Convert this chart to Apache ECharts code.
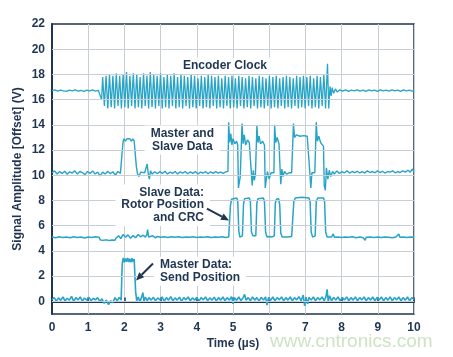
<!DOCTYPE html>
<html>
<head>
<meta charset="utf-8">
<script src="https://cdn.jsdelivr.net/npm/echarts@6/dist/echarts.min.js"></script>
<style>
html,body{margin:0;padding:0;background:#fff;}
#chart{width:453px;height:357px;}
</style>
</head>
<body>
<div id="chart"></div>
<script>
// ---- Data ----
const xMin = 0, xMax = 10;
const yMin = -1, yMax = 22;
const yGridValues = [0, 2, 4, 6, 8, 10, 12, 14, 16, 18, 20];

// Encoder clock: baseline before, clock samples (alternating peak / trough), tail after
const clockBefore = [[0,16.72],[0.08,16.78],[0.16,16.68],[0.24,16.76],[0.32,16.7],[0.4,16.66],[0.48,16.76],[0.56,16.7],[0.64,16.78],[0.72,16.68],[0.8,16.74],[0.88,16.66],[0.96,16.76],[1.04,16.7],[1.12,16.78],[1.2,16.68],[1.28,16.74],[1.33,16.7],[1.37,16.0]];
const clockStart = 1.40;
const clockHalfPeriod = 0.047;
const clockValues = [
17.8,15.5, 17.9,15.3, 18.0,15.4, 17.9,15.3, 18.1,15.5, 17.9,15.3, 18.0,15.4, 18.2,15.3, 17.9,15.5, 18.1,15.3,
18.0,15.4, 17.8,15.3, 18.1,15.5, 17.9,15.3, 18.2,15.4, 18.0,15.3, 17.9,15.5, 18.1,15.3, 17.8,15.4, 18.0,15.3,
17.9,15.5, 18.1,15.3, 17.8,15.4, 18.0,15.3, 17.9,15.5, 17.8,15.3, 18.0,15.4, 17.9,15.3, 17.7,15.5, 17.9,15.3,
17.8,15.4, 18.0,15.3, 17.9,15.5, 17.8,15.3, 17.9,15.4, 17.7,15.3, 17.9,15.5, 17.8,15.3, 17.9,15.4, 17.7,15.3,
17.9,15.5, 17.8,15.3, 17.7,15.4, 17.9,15.3, 17.8,15.5, 17.7,15.3, 17.9,15.4, 17.8,15.3, 17.7,15.5, 17.9,15.3,
17.8,15.4, 17.9,15.3, 17.7,15.5, 17.8,15.3, 17.9,15.4, 17.8,15.3, 17.7,15.5, 17.9,15.3, 17.8,15.4, 17.9,15.3,
17.8,15.5, 17.9,15.3, 17.7,15.4, 17.9,15.3, 17.8,15.5, 18.0,15.3
];
const clockAfter = [[7.61,18.85],[7.645,15.3],[7.68,17.05],[7.71,16.3],[7.74,16.95],[7.78,16.5],[7.83,16.85],[7.88,16.6],[7.95,16.78],[8.03,16.68],[8.11,16.78],[8.19,16.66],[8.27,16.76],[8.35,16.7],[8.43,16.78],[8.51,16.68],[8.59,16.76],[8.67,16.66],[8.75,16.78],[8.83,16.7],[8.91,16.76],[8.99,16.66],[9.07,16.78],[9.15,16.7],[9.23,16.76],[9.31,16.68],[9.39,16.78],[9.47,16.7],[9.55,16.76],[9.63,16.66],[9.71,16.78],[9.79,16.7],[9.87,16.76],[9.95,16.68],[10,16.74]];

const masterSlaveData = [
[0,10.2],[0.07,10.35],[0.14,10.1],[0.21,10.3],[0.28,10.15],[0.35,10.32],[0.42,10.08],[0.49,10.28],[0.56,10.18],[0.63,10.35],[0.7,10.1],[0.77,10.3],[0.84,10.22],[0.91,10.05],[0.98,10.3],[1.05,10.15],[1.12,10.35],[1.19,10.1],[1.26,10.25],[1.33,9.95],[1.4,10.25],[1.47,10.1],[1.54,10.32],[1.61,10.12],[1.68,10.28],[1.75,10.02],[1.82,10.3],[1.89,10.15],
[1.94,10.25],[1.96,12.6],[1.99,12.9],[2.03,12.7],[2.07,12.9],[2.11,12.75],[2.15,12.9],[2.19,12.7],[2.23,12.88],[2.27,12.72],[2.31,12.8],[2.33,10.7],[2.36,10.15],[2.4,9.9],[2.45,10.25],[2.5,10.1],[2.56,10.2],[2.6,10.05],[2.63,10.9],[2.66,10.1],[2.69,9.7],[2.72,10.35],[2.77,10.1],[2.84,10.28],[2.91,10.12],[2.98,10.3],[3.05,10.15],[3.12,10.32],[3.19,10.1],[3.26,10.25],[3.33,10.15],[3.4,10.3],[3.47,10.1],[3.54,10.28],[3.61,10.18],[3.68,10.3],[3.75,10.12],[3.82,10.27],[3.89,10.15],[3.96,10.3],[4.03,10.1],[4.1,10.25],[4.17,10.18],[4.24,10.3],[4.31,10.12],[4.38,10.28],[4.45,10.15],[4.52,10.3],[4.59,10.18],[4.66,10.25],[4.73,10.15],[4.8,10.28],[4.85,10.2],
[4.86,10.3],[4.88,14.2],[4.91,12.6],[4.94,13.3],[4.97,12.4],[5.0,12.9],[5.05,12.5],[5.1,12.7],[5.13,12.4],[5.15,9.0],[5.18,8.9],[5.2,9.9],
[5.23,10.0],[5.25,14.1],[5.28,12.5],[5.31,13.2],[5.35,12.4],[5.4,12.8],[5.45,12.6],[5.5,12.5],[5.53,9.2],[5.56,10.4],[5.59,9.6],[5.62,10.1],
[5.64,10.2],[5.66,13.9],[5.69,12.6],[5.72,13.1],[5.76,12.5],[5.82,12.7],[5.87,12.4],[5.89,9.0],[5.92,8.9],[5.95,10.3],[6.0,9.7],[6.05,10.2],[6.1,10.1],
[6.13,10.2],[6.15,14.0],[6.18,12.6],[6.22,13.0],[6.27,12.5],[6.3,12.4],[6.32,9.3],[6.35,10.5],[6.38,9.9],[6.42,10.3],[6.48,10.1],[6.55,10.2],[6.62,10.2],
[6.65,10.2],[6.67,14.1],[6.7,13.0],[6.75,13.2],[6.85,13.1],[6.95,13.15],[7.05,13.1],[7.1,13.0],[7.12,10.3],[7.15,9.0],[7.18,10.2],[7.22,10.1],[7.26,10.2],
[7.28,10.3],[7.3,14.2],[7.33,12.7],[7.37,13.1],[7.42,12.6],[7.47,12.5],[7.5,12.3],[7.52,9.2],[7.55,8.8],[7.58,10.6],[7.62,9.7],[7.66,10.4],[7.7,9.9],[7.75,10.3],
[7.8,10.1],[7.87,10.35],[7.94,10.15],[8.01,10.3],[8.08,10.2],[8.15,10.35],[8.22,10.18],[8.29,10.3],[8.36,10.22],[8.43,10.32],[8.5,10.2],[8.57,10.3],[8.64,10.18],[8.71,10.35],[8.78,10.22],[8.85,10.3],[8.92,10.2],[8.99,10.35],[9.06,10.22],[9.13,10.32],[9.2,10.18],[9.27,10.3],[9.34,10.25],[9.41,10.35],[9.48,10.2],[9.55,10.3],[9.62,10.22],[9.69,10.35],[9.76,10.25],[9.83,10.4],[9.9,10.25],[9.95,10.5],[10,10.3]
];

const slaveData = [
[0,5.1],[0.1,5.05],[0.2,5.12],[0.3,5.06],[0.4,5.1],[0.5,5.04],[0.6,5.12],[0.7,5.07],[0.8,5.1],[0.9,5.03],[1.0,5.1],[1.1,5.06],[1.2,5.12],[1.3,5.08],[1.34,4.86],[1.42,4.84],[1.5,4.88],[1.58,4.83],[1.66,4.87],[1.74,4.85],[1.78,5.05],[1.84,5.2],[1.9,4.98],[1.96,5.3],[2.03,5.1],[2.1,5.28],[2.17,5.0],[2.24,5.22],[2.31,5.05],[2.38,5.3],[2.45,5.12],[2.52,5.25],[2.58,5.1],[2.62,5.3],[2.64,5.7],[2.67,5.1],[2.72,4.95],[2.78,5.2],[2.85,5.05],[2.92,5.15],[3.0,5.08],[3.1,5.12],[3.2,5.06],[3.3,5.12],[3.4,5.08],[3.5,5.13],[3.6,5.06],[3.7,5.1],[3.8,5.08],[3.9,5.12],[4.0,5.06],[4.1,5.1],[4.2,5.08],[4.3,5.12],[4.4,5.06],[4.5,5.1],[4.6,5.08],[4.7,5.12],[4.8,5.07],[4.88,5.1],
[4.9,5.1],[4.93,7.6],[4.96,8.1],[5.0,8.2],[5.1,8.2],[5.13,8.0],[5.16,5.6],[5.19,5.1],[5.23,5.15],
[5.26,5.2],[5.29,7.7],[5.32,8.15],[5.45,8.2],[5.48,7.9],[5.51,5.5],[5.55,5.2],[5.6,5.2],
[5.63,5.2],[5.66,7.8],[5.69,8.15],[5.84,8.2],[5.87,7.9],[5.9,5.5],[5.94,5.1],[6.0,5.15],[6.07,5.1],[6.12,5.15],
[6.14,5.2],[6.17,7.8],[6.2,8.1],[6.26,8.15],[6.29,7.7],[6.32,5.4],[6.36,5.1],[6.5,5.1],[6.62,5.15],
[6.65,5.2],[6.68,7.9],[6.72,8.2],[6.9,8.25],[7.1,8.2],[7.13,7.9],[7.16,5.5],[7.2,5.1],[7.24,5.15],
[7.27,5.2],[7.3,7.9],[7.34,8.2],[7.5,8.2],[7.53,7.9],[7.56,5.5],[7.6,5.1],
[7.65,5.05],[7.72,5.1],[7.77,5.35],[7.8,5.08],[7.9,5.1],[8.0,5.06],[8.1,5.1],[8.2,5.08],[8.3,5.12],[8.4,5.05],[8.5,5.1],[8.6,5.04],[8.65,4.85],[8.68,5.08],[8.8,5.1],[8.9,5.06],[9.0,5.1],[9.1,5.06],[9.2,5.1],[9.3,5.08],[9.4,5.04],[9.5,5.1],[9.58,5.35],[9.61,5.08],[9.7,5.1],[9.8,5.06],[9.9,5.1],[10,5.08]
];

const masterData = [
[0,0.15],[0.06,0.3],[0.12,0.02],[0.18,0.28],[0.24,0.08],[0.3,0.35],[0.36,0.05],[0.42,0.25],[0.48,0.1],[0.54,0.4],[0.6,0.0],[0.66,0.3],[0.72,0.12],[0.78,0.35],[0.84,0.02],[0.9,0.27],[0.96,0.1],[1.02,0.32],[1.08,0.05],[1.14,0.25],[1.2,0.12],[1.26,0.3],[1.32,0.0],[1.38,0.2],[1.44,-0.15],[1.5,0.1],[1.56,-0.25],[1.62,0.05],[1.68,-0.1],[1.74,0.3],[1.8,0.05],[1.86,0.32],[1.91,0.1],
[1.94,3.0],[1.97,3.45],[2.0,3.1],[2.03,3.4],[2.06,3.15],[2.09,3.45],[2.12,3.12],[2.15,3.38],[2.18,3.1],[2.21,3.42],[2.24,3.15],[2.27,3.35],[2.29,3.2],
[2.31,0.8],[2.34,0.05],[2.38,0.35],[2.43,-0.05],[2.47,0.3],[2.51,0.7],[2.54,0.0],[2.58,0.35],[2.63,0.05],[2.68,0.3],[2.74,0.1],[2.8,0.32],[2.86,0.05],[2.92,0.28],[2.98,0.12],[3.04,0.35],[3.1,0.02],[3.16,0.3],[3.22,0.1],[3.28,0.38],[3.34,0.05],[3.4,0.28],[3.46,0.1],[3.52,0.33],[3.58,0.0],[3.64,0.3],[3.7,0.12],[3.76,0.35],[3.82,0.05],[3.88,0.28],[3.94,0.1],[4.0,0.32],[4.06,0.02],[4.12,0.3],[4.18,0.12],[4.24,0.36],[4.3,0.05],[4.36,0.28],[4.42,0.1],[4.48,0.33],[4.54,0.02],[4.6,0.3],[4.66,0.1],[4.72,0.35],[4.78,0.05],[4.84,0.3],[4.9,0.1],[4.96,0.38],[5.0,-0.2],[5.04,0.3],[5.1,0.08],[5.16,0.35],[5.22,0.05],[5.28,0.3],[5.32,0.55],[5.36,0.1],[5.42,0.3],[5.48,0.05],[5.54,0.35],[5.6,0.1],[5.66,0.3],[5.72,0.02],[5.78,0.32],[5.84,0.1],[5.9,0.35],[5.94,-0.3],[5.98,0.3],[6.04,0.08],[6.1,0.35],[6.16,0.05],[6.22,0.3],[6.28,0.12],[6.34,0.36],[6.4,0.05],[6.46,0.3],[6.52,0.1],[6.58,0.35],[6.64,0.05],[6.7,0.3],[6.76,0.12],[6.82,0.38],[6.88,0.05],[6.94,0.5],[6.98,-0.35],[7.02,0.3],[7.06,-0.2],[7.1,0.32],[7.16,0.1],[7.22,0.35],[7.28,0.05],[7.34,0.3],[7.4,0.12],[7.46,0.35],[7.52,0.05],[7.57,0.4],[7.6,0.95],[7.63,0.0],[7.67,0.45],[7.72,0.05],[7.78,0.32],[7.84,0.1],[7.9,0.35],[7.96,0.05],[8.02,0.3],[8.08,0.12],[8.14,0.35],[8.2,0.05],[8.26,0.3],[8.32,0.1],[8.38,0.36],[8.44,0.05],[8.5,0.3],[8.56,0.12],[8.62,0.35],[8.68,0.05],[8.74,0.3],[8.8,0.1],[8.86,0.35],[8.92,0.05],[8.98,0.32],[9.04,0.12],[9.1,0.35],[9.16,0.05],[9.22,0.3],[9.28,0.1],[9.34,0.36],[9.4,0.05],[9.46,0.3],[9.52,0.12],[9.58,0.35],[9.64,0.05],[9.7,0.3],[9.76,0.1],[9.82,0.35],[9.88,0.05],[9.94,0.3],[10,0.15]
];

// Annotations in data units
const annotations = [
  {text: 'Encoder Clock', x: 4.78, y: 18.68, align: 'center'},
  {text: 'Master and\nSlave Data', x: 3.6, y: 12.8, align: 'center'},
  {text: 'Slave Data:\nRotor Position\nand CRC', x: 4.365, y: 7.63, align: 'right'},
  {text: 'Master Data:\nSend Position', x: 2.82, y: 2.39, align: 'left'}
];
const arrows = [
  {from: [4.28, 7.36], to: [4.89, 6.42]},
  {from: [2.79, 3.0], to: [2.32, 1.66]}
];

// ---- Chart ----
const navy = '#1f3552';
const trace = '#27a4c7';
const fontFam = '"Liberation Sans", Arial, Helvetica, sans-serif';

const clockData = clockBefore
  .concat(clockValues.map((v, i) => [clockStart + i * clockHalfPeriod, v]))
  .concat(clockAfter);

const chart = echarts.init(document.getElementById('chart'), null, {renderer: 'canvas'});

const traceSeries = (data, w) => ({
  type: 'line', data: data, showSymbol: false, symbol: 'none', z: 3,
  lineStyle: {color: trace, width: w}, animation: false, silent: true
});

chart.setOption({
  animation: false,
  backgroundColor: '#ffffff',
  grid: {left: 52, right: 39, top: 24, bottom: 43, show: true, borderColor: navy, borderWidth: 1.5},
  xAxis: {
    type: 'value', min: xMin, max: xMax, interval: 1,
    name: 'Time (µs)', nameLocation: 'middle', nameGap: 24, nameMoveOverlap: false,
    nameTextStyle: {color: navy, fontWeight: 'bold', fontSize: 12, fontFamily: fontFam},
    axisLine: {show: true, lineStyle: {color: navy, width: 2}},
    axisTick: {show: true, inside: true, length: 4, lineStyle: {color: navy, width: 1.5}},
    axisLabel: {color: navy, fontWeight: 'bold', fontSize: 12, fontFamily: fontFam, margin: 8},
    splitLine: {show: true, lineStyle: {color: '#c7ced6', width: 1}}
  },
  yAxis: {
    type: 'value', min: yMin, max: yMax, interval: 1,
    name: 'Signal Amplitude [Offset] (V)', nameLocation: 'middle', nameGap: 28, nameRotate: 90,
    nameMoveOverlap: false,
    nameTextStyle: {color: navy, fontWeight: 'bold', fontSize: 12, fontFamily: fontFam},
    axisLine: {show: true, lineStyle: {color: navy, width: 2}},
    axisTick: {show: false},
    axisLabel: {color: navy, fontWeight: 'bold', fontSize: 12, fontFamily: fontFam, margin: 7,
      formatter: v => (v % 2 === 0 && v >= 0) ? String(v) : ''},
    splitLine: {show: false}
  },
  series: [
    {type: 'line', data: [], z: 1, silent: true,
     markLine: {silent: true, symbol: 'none', animation: false, label: {show: false},
       lineStyle: {color: '#c7ced6', width: 1, type: 'solid'},
       data: yGridValues.map(v => ({yAxis: v}))}},
    traceSeries(clockData, 1.3),
    traceSeries(masterSlaveData, 1.4),
    traceSeries(slaveData, 1.5),
    traceSeries(masterData, 1.6)
  ]
});

// Annotation graphics
const g = [];
annotations.forEach(a => {
  const p = chart.convertToPixel({gridIndex: 0}, [a.x, a.y]);
  g.push({
    type: 'text', x: p[0], y: p[1], z: 10,
    style: {
      text: a.text, fill: navy, font: 'bold 12px ' + fontFam,
      textAlign: a.align, textVerticalAlign: 'middle', lineHeight: 12.5,
      backgroundColor: '#ffffff', padding: [2, 6]
    }
  });
});
arrows.forEach(ar => {
  const a = chart.convertToPixel({gridIndex: 0}, ar.from);
  const b = chart.convertToPixel({gridIndex: 0}, ar.to);
  const dx = b[0] - a[0], dy = b[1] - a[1];
  const len = Math.sqrt(dx * dx + dy * dy);
  const ux = dx / len, uy = dy / len;
  const hl = 8, hw = 3.5;
  const bx = b[0] - ux * hl, by = b[1] - uy * hl;
  g.push({type: 'line', z: 11, shape: {x1: a[0], y1: a[1], x2: bx, y2: by},
    style: {stroke: navy, lineWidth: 2}});
  g.push({type: 'polygon', z: 11, shape: {points: [[b[0], b[1]], [bx - uy * hw, by + ux * hw], [bx + uy * hw, by - ux * hw]]},
    style: {fill: navy}});
});
g.push({type: 'text', left: 270, top: 332, z: 12,
  style: {text: 'www.cntronics.com', fill: '#cde3c3', font: '19px ' + fontFam}});
chart.setOption({graphic: g});
</script>
</body>
</html>
